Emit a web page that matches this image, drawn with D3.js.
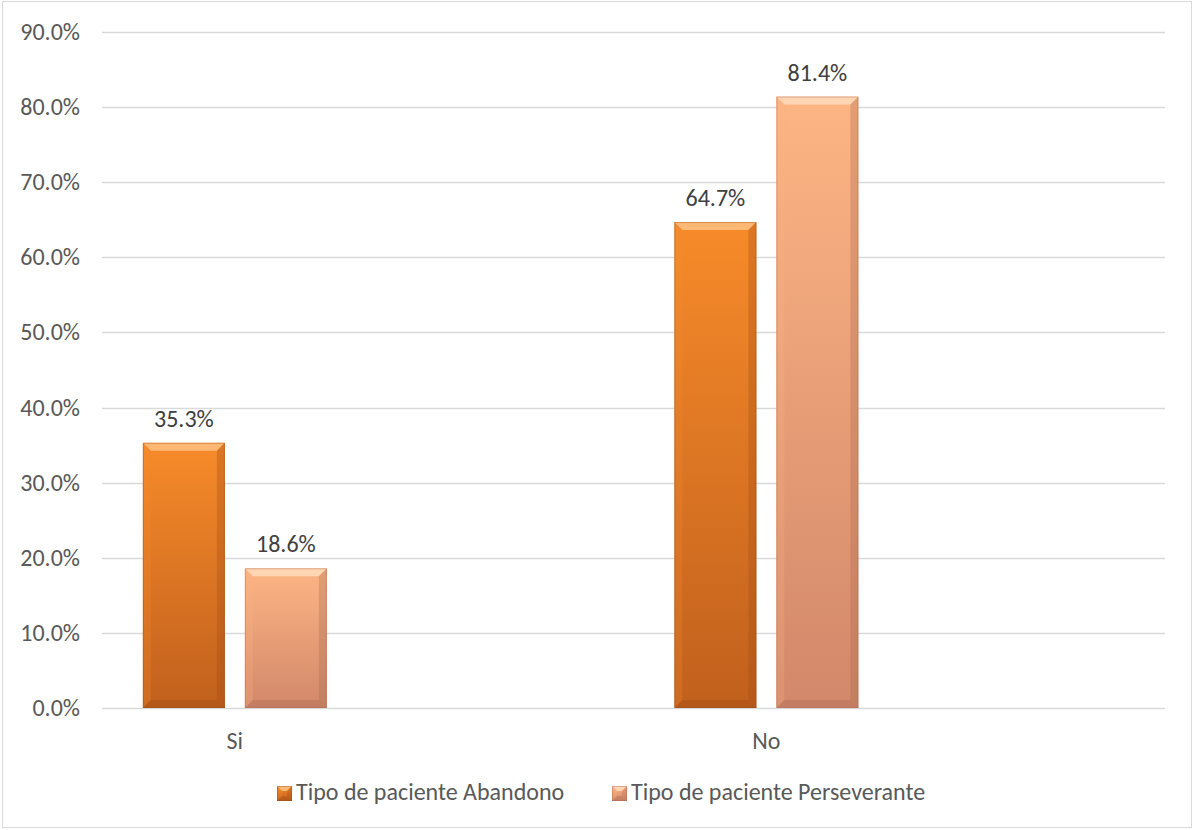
<!DOCTYPE html>
<html>
<head>
<meta charset="utf-8">
<script src="https://cdn.jsdelivr.net/npm/d3@7"></script>
<style>
  html, body { margin: 0; padding: 0; background: #fff; }
  svg { display: block; font-family: Carlito, Calibri, Lato, "Open Sans", sans-serif; }
</style>
</head>
<body>
<svg id="chart" width="1194" height="830"></svg>
<script>
// Category slots along the x axis (empty slots keep the Excel-style spacing)
const slots = ["Si", "gapA", "No", "gapB"];
const categories = ["Si", "No"];
const seriesNames = ["Tipo de paciente Abandono", "Tipo de paciente Perseverante"];
const abandono = [35.3, 64.7];
const perseverante = [18.6, 81.4];
const yTicks = [0, 10, 20, 30, 40, 50, 60, 70, 80, 90];

const palettes = [
  { top: "#F78B2A", bottom: "#C1601D", light: "#FDBB7A", dark: "#9A4A14" },
  { top: "#FDB584", bottom: "#D2886A", light: "#FFD8B6", dark: "#A8684F" }
];

const svg = d3.select("#chart");
const W = 1194, H = 830;
const plot = { left: 102, right: 1165, top: 32, bottom: 708 };
const FS = 24;

// outer frame
svg.append("rect").attr("x", 2.5).attr("y", 1.5).attr("width", W - 5).attr("height", H - 4)
  .attr("fill", "#fff").attr("stroke", "#d9d9d9").attr("stroke-width", 1);

const y = d3.scaleLinear().domain([0, 90]).range([plot.bottom, plot.top]);
const x = d3.scaleBand().domain(slots).range([plot.left, plot.right]);
const xs = d3.scaleBand().domain([0, 1]).range([0, 184]).paddingInner(0.196);

const defs = svg.append("defs");
palettes.forEach((p, i) => {
  const g = defs.append("linearGradient").attr("id", "fill" + i)
    .attr("x1", 0).attr("y1", 0).attr("x2", 0).attr("y2", 1);
  g.append("stop").attr("offset", "0%").attr("stop-color", p.top);
  g.append("stop").attr("offset", "100%").attr("stop-color", p.bottom);
});

// gridlines
svg.append("g").selectAll("line").data(yTicks).join("line")
  .attr("x1", plot.left).attr("x2", plot.right)
  .attr("y1", d => Math.round(y(d)) + 0.5).attr("y2", d => Math.round(y(d)) + 0.5)
  .attr("stroke", "#d9d9d9").attr("stroke-width", 1.5);

// y axis labels
svg.append("g").selectAll("text").data(yTicks).join("text")
  .attr("x", 80).attr("y", d => y(d) + 8)
  .attr("text-anchor", "end").attr("fill", "#595959").attr("font-size", FS)
  .text(d => d.toFixed(1) + "%");

// x axis labels
svg.append("g").selectAll("text").data(categories).join("text")
  .attr("x", d => x(d) + x.bandwidth() / 2).attr("y", 749)
  .attr("text-anchor", "middle").attr("fill", "#595959").attr("font-size", FS)
  .text(d => d);

// draws a bar with an angled bevel around its edges
function bevelBar(g, x0, y0, w, h, p, idx, bevel) {
  const b = Math.min(bevel, h / 2);
  g.append("rect").attr("x", x0).attr("y", y0).attr("width", w).attr("height", h)
    .attr("fill", `url(#fill${idx})`);
  const poly = (pts, fill, op) => g.append("polygon")
    .attr("points", pts.map(q => q.join(",")).join(" ")).attr("fill", fill).attr("opacity", op);
  const x1 = x0 + w, y1 = y0 + h;
  poly([[x0, y0], [x1, y0], [x1 - b, y0 + b], [x0 + b, y0 + b]], p.light, 0.95);
  poly([[x0, y0], [x0 + b, y0 + b], [x0 + b, y1 - b], [x0, y1]], p.top, 0.25);
  poly([[x1, y0], [x1, y1], [x1 - b, y1 - b], [x1 - b, y0 + b]], p.dark, 0.3);
  poly([[x0, y1], [x0 + b, y1 - b], [x1 - b, y1 - b], [x1, y1]], p.dark, 0.35);
  g.append("rect").attr("x", x0 + 0.5).attr("y", y0 + 0.5).attr("width", w - 1).attr("height", h - 1)
    .attr("fill", "none").attr("stroke", p.dark).attr("stroke-opacity", 0.4);
}

const series = [abandono, perseverante];
const barsG = svg.append("g");
categories.forEach((c, ci) => {
  const cx = x(c) + x.bandwidth() / 2 - 92;
  series.forEach((vals, si) => {
    const v = vals[ci];
    const bx = cx + xs(si);
    const by = y(v);
    bevelBar(barsG.append("g"), bx, by, xs.bandwidth(), y(0) - by, palettes[si], si, 8);
    barsG.append("text")
      .attr("x", bx + xs.bandwidth() / 2).attr("y", by - 16)
      .attr("text-anchor", "middle").attr("fill", "#404040").attr("font-size", FS)
      .text(v.toFixed(1) + "%");
  });
});

// legend
const legendX = [277, 612];
const lg = svg.append("g");
seriesNames.forEach((name, i) => {
  const g = lg.append("g").attr("transform", `translate(${legendX[i]},786)`);
  bevelBar(g, 0, 0, 15, 15, palettes[i], i, 5);
  g.append("text").attr("x", 19).attr("y", 14).attr("fill", "#595959").attr("font-size", FS).text(name);
});
</script>
</body>
</html>
